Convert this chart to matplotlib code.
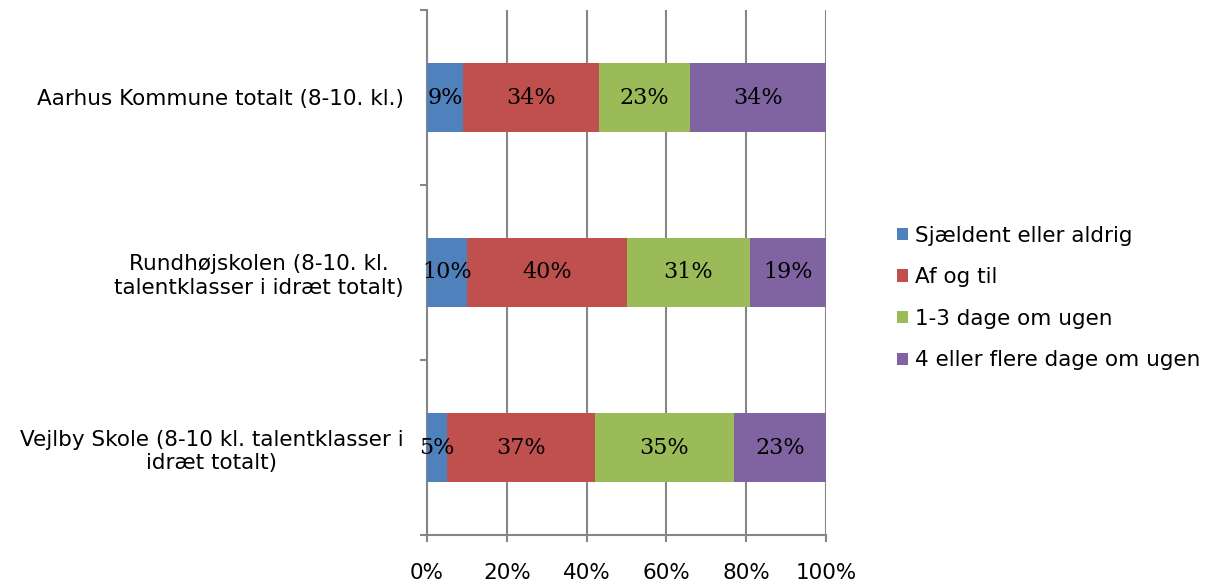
import matplotlib.pyplot as plt
import numpy as np

# Data
categories = ["Aarhus Kommune totalt (8-10. kl.)",
              "Rundhøjskolen (8-10. kl.\ntalentklasser i idræt totalt)",
              "Vejlby Skole (8-10 kl. talentklasser i\nidræt totalt)"]
series_names = ["Sjældent eller aldrig", "Af og til", "1-3 dage om ugen", "4 eller flere dage om ugen"]
sjaeldent = [9, 10, 5]
af_og_til = [34, 40, 37]
dage_1_3 = [23, 31, 35]
dage_4 = [34, 19, 23]
x_ticks = [0, 20, 40, 60, 80, 100]

colors = ["#4F81BD", "#C0504D", "#9BBB59", "#8064A2"]
grey = "#868686"

fig = plt.figure(figsize=(12.08, 5.84), dpi=100)
ax = fig.add_axes([427 / 1208, 1 - 535 / 584, 399 / 1208, 525 / 584])

# Top category first
y_pos = np.arange(len(categories))[::-1]
left = np.zeros(len(categories))
for name, values, color in zip(series_names, [sjaeldent, af_og_til, dage_1_3, dage_4], colors):
    values = np.array(values, dtype=float)
    ax.barh(y_pos, values, left=left, height=0.39, color=color, label=name, zorder=3)
    # Data labels in the middle of each segment
    for y, l, v in zip(y_pos, left, values):
        ax.text(l + v / 2, y, "%d%%" % v, ha="center", va="center",
                fontsize=16, family="DejaVu Serif", zorder=4)
    left += values

ax.set_xlim(0, 100)
ax.set_ylim(-0.5, 2.5)

# X axis with gridlines
ax.set_xticks(x_ticks)
ax.set_xticklabels(["%d%%" % t for t in x_ticks])
ax.xaxis.grid(True, color=grey, linewidth=1.5, zorder=0)
ax.tick_params(axis="x", direction="out", length=5, width=1.5, color=grey,
               pad=15, labelsize=15.5)

# Y axis: ticks on category borders, labels in the middle
ax.set_yticks([-0.5, 0.5, 1.5, 2.5])
ax.set_yticklabels([])
ax.set_yticks(y_pos, minor=True)
ax.set_yticklabels(categories, minor=True, ha="right", multialignment="center")
ax.tick_params(axis="y", which="major", direction="out", length=5, width=1.5, color=grey)
ax.tick_params(axis="y", which="minor", length=0, pad=17, labelsize=15.5)

for s in ["top", "right"]:
    ax.spines[s].set_visible(False)
for s in ["left", "bottom"]:
    ax.spines[s].set_color(grey)
    ax.spines[s].set_linewidth(1.5)

# Legend on the right
fig.legend(loc="center left", bbox_to_anchor=(897 / 1208, 1 - 298 / 584), frameon=False,
           fontsize=15.5, handlelength=0.5, handleheight=0.5, handletextpad=0.35,
           labelspacing=1.0, borderaxespad=0, borderpad=0)

fig.savefig("out.png", dpi=100)
